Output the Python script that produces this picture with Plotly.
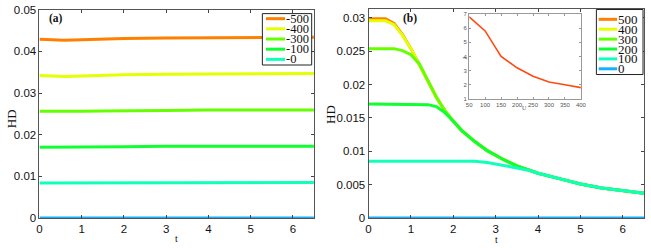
import plotly.graph_objects as go

W, H = 651, 248

# ---------------- data ----------------
# panel (a)
t_a = [0, 0.3, 0.6, 1.0, 1.5, 2.0, 3.0, 4.0, 5.0, 6.0, 6.5]
a_names = ["-500", "-400", "-300", "-100", "-0"]
a_m500 = [0.0429, 0.0428, 0.0427, 0.0428, 0.0430, 0.0431, 0.0432, 0.0433, 0.0433, 0.0434, 0.0434]
a_m400 = [0.0342, 0.0341, 0.0340, 0.0341, 0.0343, 0.0344, 0.0345, 0.0346, 0.0346, 0.0347, 0.0347]
a_m300 = [0.0256, 0.0256, 0.0255, 0.0256, 0.0257, 0.0257, 0.0258, 0.0259, 0.0259, 0.0259, 0.0259]
a_m100 = [0.0170, 0.0170, 0.0170, 0.0170, 0.0171, 0.0171, 0.0172, 0.0172, 0.0172, 0.0172, 0.0172]
a_m0 = [0.0084, 0.0084, 0.0084, 0.0084, 0.0085, 0.0085, 0.0085, 0.0085, 0.0085, 0.0085, 0.0085]
a_zero = [0, 0, 0, 0, 0, 0, 0, 0, 0, 0, 0]

# panel (b)
t_b = [0, 0.2, 0.4, 0.6, 0.8, 1.0, 1.2, 1.4, 1.6, 1.8, 2.0, 2.2, 2.5, 2.8, 3.0, 3.2,
       3.5, 3.8, 4.0, 4.5, 5.0, 5.5, 6.0, 6.5]
b_names = ["500", "400", "300", "200", "100", "0"]
b_500 = [0.0299, 0.0299, 0.0299, 0.0292, 0.0275, 0.0254, 0.0230, 0.0205, 0.0181, 0.0161,
         0.0145, 0.0131, 0.0115, 0.0101, 0.0094, 0.0087, 0.0078, 0.0071, 0.0067, 0.0059,
         0.0051, 0.0045, 0.0041, 0.0037]
b_400 = [0.0296, 0.0296, 0.0296, 0.0290, 0.0274, 0.0254, 0.0230, 0.0205, 0.0181, 0.0161,
         0.0145, 0.0131, 0.0115, 0.0101, 0.0094, 0.0087, 0.0078, 0.0071, 0.0067, 0.0059,
         0.0051, 0.0045, 0.0041, 0.0037]
b_300 = [0.0254, 0.0254, 0.0254, 0.0254, 0.0251, 0.0245, 0.0231, 0.0205, 0.0181, 0.0161,
         0.0145, 0.0131, 0.0115, 0.0101, 0.0094, 0.0087, 0.0078, 0.0071, 0.0067, 0.0059,
         0.0051, 0.0045, 0.0041, 0.0037]
b_200 = [0.0171, 0.0171, 0.0171, 0.0171, 0.0171, 0.0171, 0.0171, 0.0170, 0.0167, 0.0158,
         0.0145, 0.0131, 0.0115, 0.0101, 0.0094, 0.0087, 0.0078, 0.0071, 0.0067, 0.0059,
         0.0051, 0.0045, 0.0041, 0.0037]
b_100 = [0.0085, 0.0085, 0.0085, 0.0085, 0.0085, 0.0085, 0.0085, 0.0085, 0.0085, 0.0085,
         0.0085, 0.0085, 0.0085, 0.0083, 0.0081, 0.0078, 0.0075, 0.0071, 0.0067, 0.0059,
         0.0051, 0.0045, 0.0041, 0.0037]
b_0 = [0] * len(t_b)

# inset
u_vals = [50, 100, 150, 200, 250, 300, 350, 400]
j_vals = [6.8, 5.8, 4.0, 3.2, 2.6, 2.2, 2.0, 1.8]

colors = ["#ff8000", "#e4ff00", "#66ff00", "#10ff30", "#10ffbb", "#12b0ff"]
a_colors = colors[:5]

# ---------------- layout helpers ----------------
def px_x(x):
    return x / W

def px_y(y):
    return 1 - y / H

fig = go.Figure()

a_series = [a_m500, a_m400, a_m300, a_m100, a_m0]
for name, ys, c in zip(a_names, a_series, a_colors):
    fig.add_trace(go.Scatter(x=t_a, y=ys, mode="lines", name=name,
                             line=dict(color=c, width=3), xaxis="x", yaxis="y",
                             showlegend=False))
fig.add_trace(go.Scatter(x=t_a, y=a_zero, mode="lines", line=dict(color=colors[5], width=3),
                         xaxis="x", yaxis="y", showlegend=False, cliponaxis=False))

b_series = [b_500, b_400, b_300, b_200, b_100, b_0]
for name, ys, c in zip(b_names, b_series, colors):
    fig.add_trace(go.Scatter(x=t_b, y=ys, mode="lines", name=name,
                             line=dict(color=c, width=3), xaxis="x2", yaxis="y2",
                             showlegend=False, cliponaxis=False))

fig.add_trace(go.Scatter(x=u_vals, y=j_vals, mode="lines", line=dict(color="#ff4a10", width=1.6),
                         xaxis="x3", yaxis="y3", showlegend=False))

tickfont = dict(family="Liberation Sans, Arial", size=11.5, color="#111")
axcommon = dict(showgrid=False, zeroline=False, ticks="inside", ticklen=3, tickwidth=1,
                tickcolor="#444", showline=True, linecolor="#555", linewidth=1,
                mirror="allticks", tickfont=tickfont)
insetfont = dict(family="Liberation Sans, Arial", size=6, color="#555")
insetax = dict(showgrid=False, zeroline=False, ticks="inside", ticklen=2,
               tickcolor="#999", showline=True, linecolor="#999", mirror="allticks",
               tickfont=insetfont)

fig.update_layout(
    width=W, height=H, margin=dict(l=0, r=0, t=0, b=0, pad=0), autosize=False,
    paper_bgcolor="white", plot_bgcolor="white",
    xaxis=dict(domain=[px_x(37), px_x(315.3)], range=[0, 6.5], dtick=1, tick0=0,
               anchor="y", **axcommon),
    yaxis=dict(domain=[px_y(222.7), px_y(4)], range=[0, 0.05], dtick=0.01, tick0=0,
               anchor="x", **axcommon),
    xaxis2=dict(domain=[px_x(370.7), px_x(650)], range=[0, 6.5], dtick=1, tick0=0,
                anchor="y2", **axcommon),
    yaxis2=dict(domain=[px_y(222.7), px_y(3.5)], range=[0, 0.0313], dtick=0.005, tick0=0,
                anchor="x2", **axcommon),
    xaxis3=dict(domain=[px_x(472.7), px_x(586)], range=[50, 400], dtick=50, tick0=50,
                anchor="y3", **insetax),
    yaxis3=dict(domain=[px_y(97.7), px_y(8.3)], range=[1, 7], dtick=1, tick0=1,
                anchor="x3", **insetax),
)

shapes = []
annotations = []
serif = "Liberation Serif, Times New Roman"

def label(text, x, y, size, color="#111", angle=0):
    annotations.append(dict(text=text, xref="paper", yref="paper", x=px_x(x), y=px_y(y),
                            xanchor="center", yanchor="middle", textangle=angle,
                            showarrow=False, borderpad=0,
                            font=dict(family=serif, size=size, color=color)))

def add_legend(names, cols, x0, x1, y0, y1, row0, dy, lx0, lx1, tx, fsize):
    shapes.append(dict(type="rect", xref="paper", yref="paper",
                       x0=px_x(x0), x1=px_x(x1), y0=px_y(y1), y1=px_y(y0),
                       line=dict(color="#222", width=1), fillcolor="white", layer="above"))
    for i, (n, c) in enumerate(zip(names, cols)):
        yy = row0 + i * dy
        shapes.append(dict(type="line", xref="paper", yref="paper",
                           x0=px_x(lx0), x1=px_x(lx1), y0=px_y(yy), y1=px_y(yy),
                           line=dict(color=c, width=3), layer="above"))
        annotations.append(dict(text=n, xref="paper", yref="paper", x=px_x(tx), y=px_y(yy),
                                xanchor="left", yanchor="middle", showarrow=False,
                                borderpad=0,
                                font=dict(family=serif, size=fsize, color="#111")))

add_legend(a_names, a_colors, 263, 313, 8, 62, 13.3, 10.7, 266.7, 286, 285.5, 12.5)
add_legend(b_names, colors, 601.7, 649, 3.7, 72, 14, 10.4, 604, 622.7, 622.5, 13)

# axis titles / labels
label("HD", 8, 118, 13, angle=-90)
label("HD", 332, 114, 13, angle=-90)
label("t", 175.5, 244, 10)
label("t", 500, 245, 10)
label("<b>(a)</b>", 54, 12.7, 11.5)
label("<b>(b)</b>", 412.5, 12.7, 11.5)
label("J", 467.5, 55, 6.5, color="#555", angle=-90)
label("U", 528.5, 107, 6, color="#555")

fig.update_layout(shapes=shapes, annotations=annotations)
fig.write_html("out.html", config={"displayModeBar": False},
               post_script="document.body.style.margin='0';document.body.style.overflow='hidden';")
